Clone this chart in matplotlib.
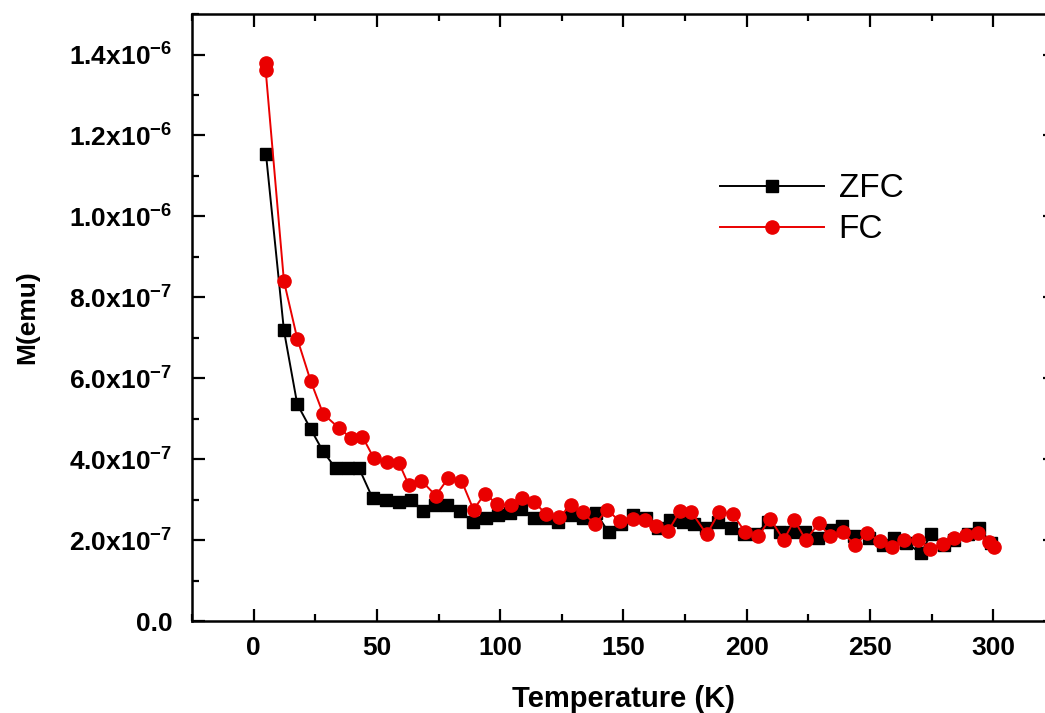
import numpy as np
import matplotlib
matplotlib.use('Agg')
import matplotlib.pyplot as plt
from matplotlib.ticker import MultipleLocator, FuncFormatter

plt.rcParams['font.family'] = ['Liberation Sans', 'DejaVu Sans']
plt.rcParams['mathtext.fontset'] = 'custom'
plt.rcParams['mathtext.rm'] = 'Liberation Sans:bold'
plt.rcParams['mathtext.bf'] = 'Liberation Sans:bold'
plt.rcParams['mathtext.default'] = 'bf'

# ZFC data (M in units of 1e-7 emu)
zfc_T = [5, 12.3, 17.7, 23.1, 28, 33.3, 38.1, 42.8, 48.3, 53.6, 58.8, 63.7, 68.6, 73.5,
         78.3, 83.6, 88.9, 94.2, 99, 103.8, 108.6, 113.6, 118.5, 123.4, 128.7, 133.5,
         138.8, 144, 149, 154, 159, 164, 168.8, 174.1, 178.6, 183.4, 188.3, 193.5,
         198.9, 203.7, 208.6, 213.3, 218.8, 223.5, 228.9, 234.2, 238.5, 243.5, 249.6,
         255.3, 259.7, 264.6, 270.7, 274.8, 280, 284.1, 289.8, 294.2, 299.1]
zfc_M = [11.55, 7.18, 5.36, 4.75, 4.21, 3.77, 3.77, 3.77, 3.03, 3.0, 2.93, 2.98, 2.73, 2.86,
         2.86, 2.73, 2.44, 2.54, 2.61, 2.68, 2.76, 2.54, 2.55, 2.44, 2.61, 2.54,
         2.68, 2.19, 2.41, 2.61, 2.54, 2.29, 2.49, 2.45, 2.41, 2.31, 2.44, 2.31,
         2.16, 2.16, 2.44, 2.19, 2.19, 2.19, 2.06, 2.24, 2.36, 2.11, 2.04,
         1.87, 2.04, 1.94, 1.67, 2.16, 1.87, 1.99, 2.16, 2.29, 1.94, 2.04]
zfc_M = zfc_M[:len(zfc_T)]

# FC data (M in units of 1e-7 emu)
fc_T = [4.9, 4.9, 12.3, 17.7, 23.1, 28.2, 34.6, 39.4, 44.1, 48.8, 54, 59, 63, 68, 73.9,
        78.9, 84.3, 89.2, 93.8, 98.9, 104.3, 109, 113.8, 118.5, 123.9, 128.7, 133.4,
        138.5, 143.3, 148.5, 153.7, 158.7, 163.1, 168.1, 173, 177.6, 183.8, 188.8,
        194.3, 199.3, 204.7, 209.5, 215, 219.3, 224, 229.2, 233.9, 238.9, 243.9,
        248.8, 254.2, 258.8, 263.9, 269.6, 274.5, 279.5, 284.2, 289, 293.7, 298.4, 300.2]
fc_M = [13.8, 13.61, 8.4, 6.98, 5.94, 5.12, 4.77, 4.53, 4.56, 4.02, 3.92, 3.9, 3.35, 3.47, 3.1,
        3.53, 3.47, 2.75, 3.15, 2.88, 2.86, 3.04, 2.94, 2.65, 2.57, 2.86, 2.69,
        2.39, 2.75, 2.47, 2.53, 2.5, 2.34, 2.22, 2.72, 2.69, 2.14, 2.69,
        2.65, 2.2, 2.09, 2.53, 2.0, 2.49, 2.0, 2.42, 2.09, 2.2, 1.87,
        2.17, 1.97, 1.83, 2.0, 2.01, 1.79, 1.91, 2.04, 2.12, 2.17, 1.95, 1.83]

zfc_T = np.array(zfc_T)
zfc_M = np.array(zfc_M) * 1e-7
fc_T = np.array(fc_T)
fc_M = np.array(fc_M) * 1e-7

fig = plt.figure(figsize=(10.45, 7.13), dpi=100)
ax = fig.add_axes([0.1837, 0.129, 0.8258, 0.8513])

red = '#ea0000'
ax.plot(zfc_T, zfc_M, color='black', lw=1.4, marker='s', ms=9, label='ZFC')
ax.plot(fc_T, fc_M, color=red, lw=1.4, marker='o', ms=9.5, mec=red, mfc=red, label='FC')

ax.set_xlim(-25, 325)
ax.set_ylim(0, 1.5e-6)
ax.xaxis.set_major_locator(MultipleLocator(50))
ax.xaxis.set_minor_locator(MultipleLocator(25))
ax.yaxis.set_major_locator(MultipleLocator(2e-7))
ax.yaxis.set_minor_locator(MultipleLocator(1e-7))


def yfmt(v, pos):
    if abs(v) < 1e-12:
        return '0.0'
    exp = int(np.floor(np.log10(abs(v)) + 1e-9))
    mant = v / 10 ** exp
    return '%.1fx10$^{%d}$' % (mant, exp)


ax.yaxis.set_major_formatter(FuncFormatter(yfmt))

ax.tick_params(which='both', direction='in', top=True, right=True, width=1.6)
ax.tick_params(which='major', length=9, labelsize=19, pad=11)
ax.tick_params(axis='y', which='major', pad=14)
ax.tick_params(which='minor', length=5)
for lab in ax.get_xticklabels() + ax.get_yticklabels():
    lab.set_fontweight('bold')
for sp in ax.spines.values():
    sp.set_linewidth(1.8)

ax.set_xlabel('Temperature (K)', fontsize=21, fontweight='bold', labelpad=18)
ax.set_ylabel('M(emu)', fontsize=19, fontweight='bold', labelpad=22)

ax.legend(loc='upper left', bbox_to_anchor=(0.593, 0.765), frameon=False, fontsize=24,
          handlelength=3.1, handletextpad=0.45, labelspacing=0.3, borderpad=0)

fig.savefig('out.png', dpi=100)
